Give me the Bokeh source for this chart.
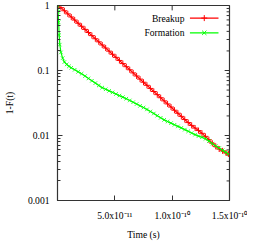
from bokeh.plotting import figure
from bokeh.models import FixedTicker, CustomJSTickFormatter
from bokeh.core.properties import value
from bokeh.embed import file_html
from bokeh.resources import INLINE

# ---- data (time in units of 1e-11 s) ----
breakup_t = [0.0, 0.3, 0.6, 0.9, 1.2, 1.5, 1.8, 2.1, 2.4, 2.7, 3.0, 3.3, 3.6, 3.9, 4.2, 4.5,
             4.8, 5.1, 5.4, 5.7, 6.0, 6.3, 6.6, 6.9, 7.2, 7.5, 7.8, 8.1, 8.4, 8.7, 9.0, 9.3,
             9.6, 9.9, 10.2, 10.5, 10.8, 11.1, 11.4, 11.7, 12.0, 12.3, 12.6, 12.9, 13.2,
             13.5, 13.8, 14.1, 14.4, 14.7, 14.9]
breakup_p = [1.0, 0.926, 0.830, 0.743, 0.666, 0.597, 0.534, 0.479, 0.429, 0.384, 0.344, 0.308,
             0.276, 0.247, 0.2216, 0.1985, 0.1778, 0.1593, 0.1427, 0.1278, 0.1145, 0.1026,
             0.0919, 0.0823, 0.0737, 0.0660, 0.0592, 0.0530, 0.0475, 0.0425, 0.0381, 0.0341,
             0.0306, 0.0274, 0.0245, 0.0220, 0.0197, 0.0176, 0.0158, 0.0143, 0.0130, 0.0119,
             0.0108, 0.0097, 0.0086, 0.0076, 0.0068, 0.0062, 0.0058, 0.0054, 0.0052]

formation_t = [0.0, 0.05, 0.1, 0.15, 0.2, 0.3, 0.45, 0.6, 0.8, 1.0, 1.2, 1.5, 1.8, 2.1, 2.4,
               2.7, 3.0, 3.3, 3.6, 3.9, 4.2, 4.5, 4.8, 5.1, 5.4, 5.7, 6.0, 6.3, 6.6, 6.9, 7.2,
               7.5, 7.8, 8.1, 8.4, 8.7, 9.0, 9.3, 9.6, 9.9, 10.2, 10.5, 10.8, 11.1, 11.4, 11.7,
               12.0, 12.3, 12.6, 12.9, 13.2, 13.5, 13.8, 14.1, 14.4, 14.7, 14.9]
formation_p = [1.0, 0.8, 0.55, 0.35, 0.25, 0.19, 0.155, 0.135, 0.124, 0.116, 0.110, 0.1026,
               0.0955, 0.0891, 0.0820, 0.0755, 0.0695, 0.0640, 0.0589, 0.0545, 0.0514, 0.0486,
               0.0460, 0.0435, 0.0411, 0.0389, 0.0368, 0.0346, 0.0325, 0.0305, 0.0286, 0.0269,
               0.0252, 0.0234, 0.0218, 0.0202, 0.0187, 0.0174, 0.0164, 0.0155, 0.0146, 0.0138,
               0.0131, 0.0123, 0.0116, 0.0109, 0.0103, 0.0098, 0.0094, 0.0089, 0.0082, 0.0075,
               0.0069, 0.0064, 0.0059, 0.0055, 0.0052]

x_tick_vals = [5e-11, 1e-10, 1.5e-10]
x_tick_labels = ["5.0x10\u207b\u00b9\u00b9", "1.0x10\u207b\u00b9\u2070", "1.5x10\u207b\u00b9\u2070"]
y_tick_vals = [0.001, 0.01, 0.1, 1.0]
y_tick_labels = ["0.001", "0.01", "0.1", "1"]
series_names = ["Breakup", "Formation"]

RED = "#ff0000"
GREEN = "#00ff00"
FONT = "Liberation Serif"
FS = "9.6px"
FRAME = "#333333"

W, H = 247, 242
BL, BR, BT, BB = 51, 18, 5, 37
FW, FH = W - BL - BR, H - BT - BB
X0, X1 = 0.0, 1.5e-10
Y0, Y1 = 0.001, 1.0

bx = [t * 1e-11 for t in breakup_t]
fx = [t * 1e-11 for t in formation_t]

p = figure(width=W, height=H, y_axis_type="log",
           x_range=(X0, X1), y_range=(Y0, Y1),
           output_backend="svg", toolbar_location=None,
           min_border_left=BL, min_border_right=BR, min_border_top=BT, min_border_bottom=BB)
p.grid.visible = False
p.outline_line_color = FRAME
p.outline_line_width = 1.2
p.background_fill_color = "white"
p.border_fill_color = "white"

minor_y = [m * d for d in (0.001, 0.01, 0.1) for m in range(2, 10)]
xt = FixedTicker(ticks=x_tick_vals)
yt = FixedTicker(ticks=y_tick_vals, minor_ticks=minor_y)

xfmt = CustomJSTickFormatter(args=dict(vals=x_tick_vals, labels=x_tick_labels), code="""
let best = 0;
for (let i = 0; i < vals.length; i++) {
  if (Math.abs(vals[i] - tick) < Math.abs(vals[best] - tick)) best = i;
}
return labels[best];
""")
yfmt = CustomJSTickFormatter(args=dict(vals=y_tick_vals, labels=y_tick_labels), code="""
let best = 0;
for (let i = 0; i < vals.length; i++) {
  if (Math.abs(Math.log10(vals[i]) - Math.log10(tick)) < Math.abs(Math.log10(vals[best]) - Math.log10(tick))) best = i;
}
return labels[best];
""")

xa = p.xaxis[0]
xa.ticker = xt
xa.formatter = xfmt
xa.axis_label = "Time (s)"
ya = p.yaxis[0]
ya.ticker = yt
ya.formatter = yfmt
ya.axis_label = "1-F(t)"

for ax in (xa, ya):
    ax.major_tick_in = 5
    ax.major_tick_out = 0
    ax.minor_tick_in = 3
    ax.minor_tick_out = 0
    ax.axis_line_color = FRAME
    ax.major_tick_line_color = FRAME
    ax.minor_tick_line_color = FRAME
    ax.major_label_text_font = FONT
    ax.major_label_text_font_size = FS
    ax.major_label_text_color = "black"
    ax.axis_label_text_font = FONT
    ax.axis_label_text_font_size = FS
    ax.axis_label_text_font_style = "normal"
    ax.axis_label_text_color = "black"
xa.major_label_standoff = 9
xa.axis_label_standoff = 5
ya.major_label_standoff = 8
ya.axis_label_standoff = 10

# mirrored ticks on top and right (gnuplot style), built from tick values
dy_major = 10 ** (-(5 / FH) * 3)
dx_major = 5 * (X1 - X0) / FW
dx_minor = 3 * (X1 - X0) / FW
p.segment(x0=x_tick_vals, y0=[Y1] * len(x_tick_vals), x1=x_tick_vals,
          y1=[Y1 * dy_major] * len(x_tick_vals), line_color=FRAME, line_width=1)
p.segment(x0=[X1] * len(y_tick_vals), y0=y_tick_vals, x1=[X1 - dx_major] * len(y_tick_vals),
          y1=y_tick_vals, line_color=FRAME, line_width=1)
p.segment(x0=[X1] * len(minor_y), y0=minor_y, x1=[X1 - dx_minor] * len(minor_y),
          y1=minor_y, line_color=FRAME, line_width=1)

# series
p.line(bx, breakup_p, line_color=RED, line_width=1.2)
p.scatter(bx, breakup_p, marker="cross", size=6, line_color=RED, line_width=1)
p.line(fx, formation_p, line_color=GREEN, line_width=1.2)
p.scatter(fx, formation_p, marker="x", size=5, line_color=GREEN, line_width=1, line_alpha=0.8)

# legend (gnuplot style: text left, sample right)
leg_text_x = 11.07e-11
leg_x0, leg_x1, leg_xm = 11.55e-11, 14.04e-11, 12.8e-11
leg_y = [0.64, 0.38]
cols = [RED, GREEN]
marks = ["cross", "x"]
for name, yy, c, m in zip(series_names, leg_y, cols, marks):
    p.text(x=[leg_text_x], y=[yy], text=[name], text_align="right", text_baseline="middle",
           text_font=value(FONT), text_font_size=FS, text_color="black")
    p.line([leg_x0, leg_x1], [yy, yy], line_color=c, line_width=1.2)
    p.scatter([leg_xm], [yy], marker=m, size=6, line_color=c, line_width=1)

open("out.html", "w").write(file_html(p, INLINE))
